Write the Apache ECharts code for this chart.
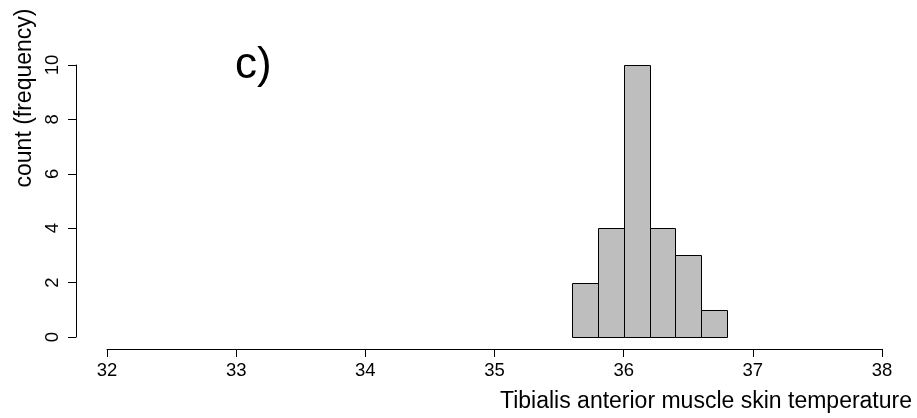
<!DOCTYPE html>
<html>
<head>
<meta charset="utf-8">
<script src="https://cdn.jsdelivr.net/npm/echarts@6/dist/echarts.min.js"></script>
<style>
  html, body { margin: 0; padding: 0; background: #fff; }
  #main { width: 917px; height: 418px; }
</style>
</head>
<body>
<div id="main"></div>
<script>
// histogram bins (left / right edges) and counts
var binStart = [35.6, 35.8, 36.0, 36.2, 36.4, 36.6];
var binEnd = [35.8, 36.0, 36.2, 36.4, 36.6, 36.8];
var counts = [2, 4, 10, 4, 3, 1];

// axis ranges
var xMin = 32, xMax = 38, xStep = 1;
var yMin = 0, yMax = 10, yStep = 2;

var panelLabel = 'c)';
var xTitle = 'Tibialis anterior muscle skin temperature';
var yTitle = 'count (frequency)';

var font = '"Liberation Sans", Arial, sans-serif';

var seriesData = [];
for (var i = 0; i < counts.length; i++) {
    seriesData.push([binStart[i], binEnd[i], counts[i]]);
}

var dom = document.getElementById('main');
var myChart = echarts.init(dom, null, { renderer: 'canvas' });

var option = {
    backgroundColor: '#ffffff',
    animation: false,
    grid: {
        left: 107,
        right: 35,
        top: 65,
        bottom: 81
    },
    xAxis: {
        type: 'value',
        min: xMin,
        max: xMax,
        interval: xStep,
        offset: 12,
        splitLine: { show: false },
        axisLine: { show: true, onZero: false, lineStyle: { color: '#000', width: 1 } },
        axisTick: { show: true, length: 8, lineStyle: { color: '#000', width: 1 } },
        axisLabel: {
            color: '#000',
            fontSize: 18.5,
            fontFamily: font,
            margin: 12
        }
    },
    yAxis: {
        type: 'value',
        min: yMin,
        max: yMax,
        interval: yStep,
        offset: 31,
        splitLine: { show: false },
        axisLine: { show: true, onZero: false, lineStyle: { color: '#000', width: 1 } },
        axisTick: { show: true, length: 8, lineStyle: { color: '#000', width: 1 } },
        axisLabel: {
            color: '#000',
            fontSize: 18.5,
            fontFamily: font,
            rotate: 90,
            margin: 14
        }
    },
    graphic: [
        {
            type: 'text',
            left: 235,
            top: 44,
            style: {
                text: panelLabel,
                fill: '#000',
                font: '44px ' + font
            }
        },
        {
            type: 'text',
            right: 5,
            top: 390,
            style: {
                text: xTitle,
                fill: '#000',
                font: '23px ' + font
            }
        },
        {
            type: 'text',
            x: 25,
            y: 98,
            rotation: Math.PI / 2,
            style: {
                text: yTitle,
                fill: '#000',
                font: '23px ' + font,
                align: 'center',
                verticalAlign: 'middle'
            }
        }
    ],
    series: [
        {
            type: 'custom',
            data: seriesData,
            encode: { x: [0, 1], y: 2 },
            renderItem: function (params, api) {
                var p0 = api.coord([api.value(0), api.value(2)]);
                var p1 = api.coord([api.value(1), 0]);
                return {
                    type: 'rect',
                    shape: {
                        x: Math.round(p0[0]) + 0.5,
                        y: Math.round(p0[1]) + 0.5,
                        width: Math.round(p1[0]) - Math.round(p0[0]),
                        height: Math.round(p1[1]) - Math.round(p0[1])
                    },
                    style: {
                        fill: '#bebebe',
                        stroke: '#000',
                        lineWidth: 1
                    }
                };
            }
        }
    ]
};

myChart.setOption(option);
</script>
</body>
</html>
